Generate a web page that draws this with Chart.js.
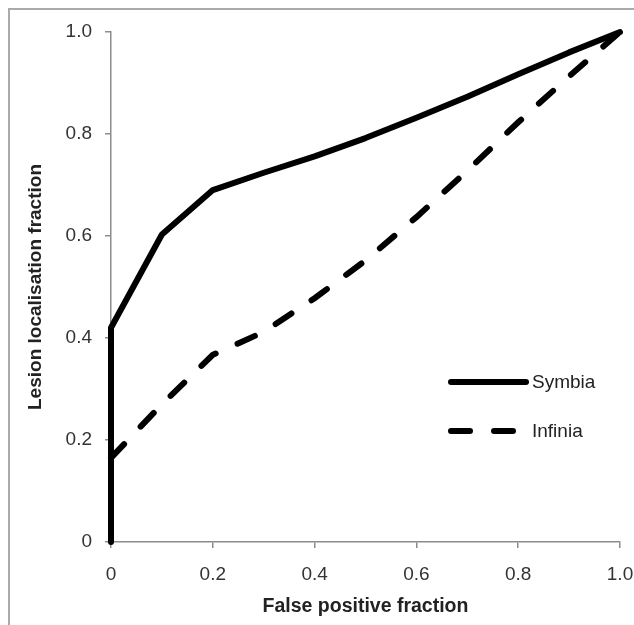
<!DOCTYPE html>
<html>
<head>
<meta charset="utf-8">
<script src="https://cdn.jsdelivr.net/npm/chart.js@4.4.1/dist/chart.umd.min.js"></script>
<style>
  html, body { margin: 0; padding: 0; background: #fff; }
  #wrap { position: relative; width: 634px; height: 625px; overflow: hidden; }
  #frame { position: absolute; left: 8px; top: 8px; width: 700px; height: 700px;
           border-left: 2px solid #aaa; border-top: 2px solid #aaa; }
  canvas { position: absolute; left: 0; top: 0; }
</style>
</head>
<body>
<div id="wrap">
  <div id="frame"></div>
  <canvas id="roc" width="634" height="625"></canvas>
</div>
<script>
// false positive fraction (x) and lesion localisation fraction (y)
var symbiaX = [0, 0, 0.1, 0.2, 0.3, 0.4, 0.5, 0.6, 0.7, 0.8, 0.9, 1.0];
var symbiaY = [0, 0.42, 0.603, 0.69, 0.724, 0.756, 0.792, 0.832, 0.873, 0.917, 0.96, 1.0];

var infiniaX = [0, 0.1, 0.2, 0.3, 0.4, 0.5, 0.6, 0.7, 0.8, 0.9, 1.0];
var infiniaY = [0.165, 0.27, 0.367, 0.412, 0.478, 0.552, 0.637, 0.728, 0.823, 0.913, 1.0];

var seriesNames = ['Symbia', 'Infinia'];
var xTickLabels = ['0', '0.2', '0.4', '0.6', '0.8', '1.0'];
var yTickLabels = ['0', '0.2', '0.4', '0.6', '0.8', '1.0'];

function toPoints(xs, ys) {
    var pts = [];
    for (var i = 0; i < xs.length; i += 1) {
        pts.push({ x: xs[i], y: ys[i] });
    }
    return pts;
}

var FONT = 'Liberation Sans, Arial, sans-serif';
var AXIS_GREY = '#8c8c8c';

// legend drawn inside the plot, Excel style
var insideLegend = {
    id: 'insideLegend',
    afterDraw: function (chart) {
        var ctx = chart.ctx;
        var x0 = 451, x1 = 526, tx = 532;
        var rows = [382, 431];
        ctx.save();
        ctx.strokeStyle = '#000';
        ctx.lineWidth = 6;
        ctx.lineCap = 'round';
        ctx.fillStyle = '#222';
        ctx.font = '19px ' + FONT;
        ctx.textBaseline = 'middle';
        for (var i = 0; i < seriesNames.length; i += 1) {
            var ds = chart.data.datasets[i];
            ctx.setLineDash(ds.borderDash || []);
            ctx.beginPath();
            ctx.moveTo(x0, rows[i]);
            ctx.lineTo(x1 - (i === 1 ? 8 : 0), rows[i]);
            ctx.stroke();
            ctx.setLineDash([]);
            ctx.fillText(seriesNames[i], tx, rows[i] + 1);
        }
        ctx.restore();
    }
};

var ctx = document.getElementById('roc').getContext('2d');
var chart = new Chart(ctx, {
    type: 'line',
    data: {
        datasets: [{
            label: seriesNames[0],
            data: toPoints(symbiaX, symbiaY),
            borderColor: '#000',
            borderWidth: 6,
            borderCapStyle: 'round',
            borderJoinStyle: 'round',
            pointRadius: 0,
            tension: 0,
            clip: false
        }, {
            label: seriesNames[1],
            data: toPoints(infiniaX, infiniaY),
            borderColor: '#000',
            borderWidth: 6,
            borderDash: [19, 24],
            borderCapStyle: 'round',
            pointRadius: 0,
            tension: 0,
            clip: false
        }]
    },
    options: {
        responsive: false,
        animation: false,
        events: [],
        layout: { padding: { left: 0, top: 32, right: 14, bottom: 0 } },
        plugins: {
            legend: { display: false },
            tooltip: { enabled: false }
        },
        scales: {
            x: {
                type: 'linear',
                min: 0,
                max: 1,
                afterFit: function (scale) {
                    scale.height = 83;
                    scale.paddingRight = 0;
                    scale.paddingLeft = 0;
                },
                border: { color: AXIS_GREY, width: 1.5 },
                grid: { drawOnChartArea: false, color: AXIS_GREY, lineWidth: 1.5, tickLength: 6 },
                ticks: {
                    stepSize: 0.2,
                    padding: 15,
                    color: '#333',
                    font: { family: FONT, size: 19 },
                    callback: function (v, i) { return xTickLabels[i]; }
                },
                title: {
                    display: true,
                    text: 'False positive fraction',
                    color: '#222',
                    font: { family: FONT, size: 19.5, weight: 'bold' },
                    padding: { top: 0, bottom: 7 }
                }
            },
            y: {
                min: 0,
                max: 1,
                afterFit: function (scale) { scale.width = 111; },
                border: { color: AXIS_GREY, width: 1.5 },
                grid: { drawOnChartArea: false, color: AXIS_GREY, lineWidth: 1.5, tickLength: 6 },
                ticks: {
                    stepSize: 0.2,
                    padding: 13,
                    color: '#333',
                    font: { family: FONT, size: 19 },
                    callback: function (v, i) { return yTickLabels[i]; }
                },
                title: {
                    display: true,
                    text: 'Lesion localisation fraction',
                    color: '#222',
                    font: { family: FONT, size: 19, weight: 'bold' },
                    padding: { top: 24, bottom: 0 }
                }
            }
        }
    },
    plugins: [insideLegend]
});
</script>
</body>
</html>
